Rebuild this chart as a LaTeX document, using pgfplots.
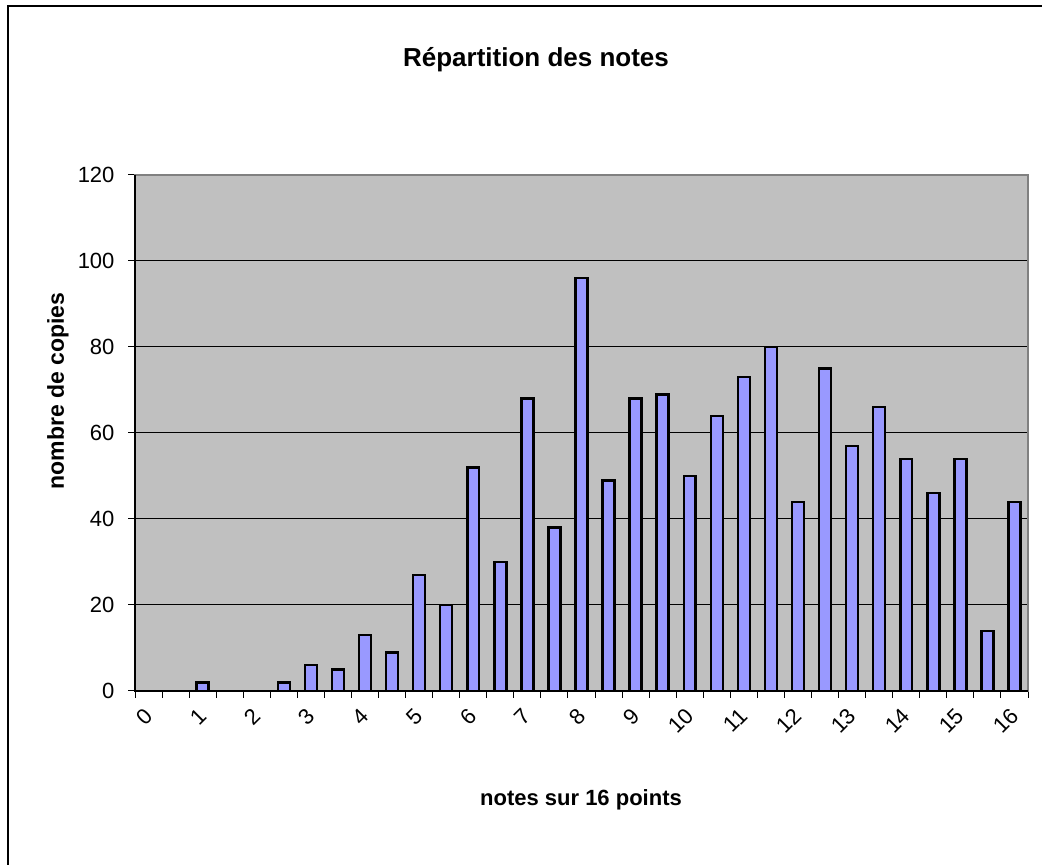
\documentclass[border=0pt]{standalone}
\usepackage{fontspec}
\setmainfont{Liberation Sans}
\usepackage{pgfplots}
\pgfplotsset{compat=1.18}
\definecolor{plotbg}{HTML}{C0C0C0}
\definecolor{barfill}{HTML}{9999FF}
\definecolor{framegray}{HTML}{808080}
\newcommand{\tickfont}{\fontsize{22}{24}\selectfont}
\begin{document}
\begin{tikzpicture}[x=1pt,y=1pt]
\useasboundingbox (0,0) rectangle (1042,865);
\draw[line width=2pt] (8,0) -- (8,859) -- (1042,859);
\node[font=\bfseries\fontsize{26}{30}\selectfont] at (536,805) {Répartition des notes};
\node[font=\bfseries\fontsize{22}{26}\selectfont] at (581,65) {notes sur 16 points};
\node[font=\bfseries\fontsize{23}{27}\selectfont, rotate=90] at (58,474) {nombre de copies};
\begin{axis}[
  at={(135pt,174pt)}, anchor=south west,
  scale only axis, width=893pt, height=516pt,
  xmin=-0.25, xmax=16.25, ymin=0, ymax=120,
  ytick={0,20,...,120},
  minor ytick={0,20,...,120},
  xtick={0,1,...,16},
  xticklabels={0,1,2,3,4,5,6,7,8,9,10,11,12,13,14,15,16},
  minor xtick={-0.25,0.25,...,16.25},
  xtick pos=bottom, ytick pos=left,
  tick align=outside,
  major tick length=0pt,
  minor tick length=7pt,
  tick style={black, line width=1pt},
  minor tick style={black, line width=1pt},
  ymajorgrids,
  major grid style={black, line width=1pt},
  axis background/.style={fill=plotbg},
  axis line style={draw=framegray, line width=1.5pt},
  ybar, bar width=0.22, bar shift=0pt,
  /pgf/number format/assume math mode=true,
  tick label style={font=\tickfont},
  yticklabel style={anchor=east, xshift=-17pt},
  xticklabel style={font=\tickfont, yshift=-21pt, rotate=45, anchor=east, inner sep=0pt},
  clip=false,
]
\addplot[fill=barfill, draw=black, line width=2.5pt] coordinates {
  (1,2) (2.5,2) (3,6) (3.5,5) (4,13) (4.5,9) (5,27) (5.5,20)
  (6,52) (6.5,30) (7,68) (7.5,38) (8,96) (8.5,49) (9,68) (9.5,69)
  (10,50) (10.5,64) (11,73) (11.5,80) (12,44) (12.5,75) (13,57)
  (13.5,66) (14,54) (14.5,46) (15,54) (15.5,14) (16,44)
};
\draw[black, line width=1.5pt] (rel axis cs:0,1) -- (rel axis cs:0,0) -- (rel axis cs:1,0);
\end{axis}
\end{tikzpicture}
\end{document}
